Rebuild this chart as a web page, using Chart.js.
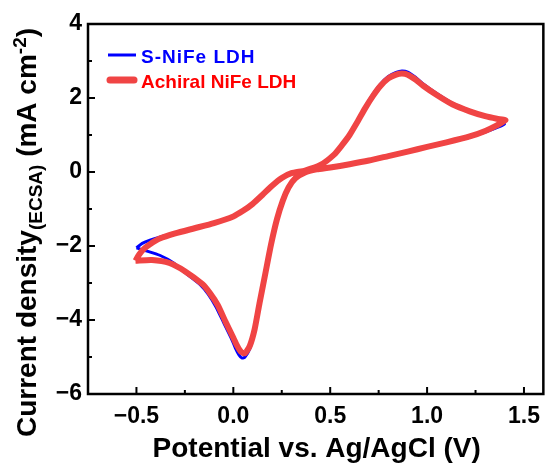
<!DOCTYPE html>
<html>
<head>
<meta charset="utf-8">
<script src="https://cdn.jsdelivr.net/npm/chart.js@4.4.0/dist/chart.umd.min.js"></script>
<style>
  html, body { margin: 0; padding: 0; background: #fff; }
</style>
</head>
<body>
<canvas id="cv" width="549" height="466"></canvas>
<script>
// S-NiFe LDH : potential (V) and current density (mA cm-2), one closed CV loop
const sNiFeV = [-0.50, -0.47, -0.43, -0.38, -0.30, -0.20, -0.10, 0.00, 0.05, 0.10, 0.15, 0.20, 0.25, 0.30, 0.37,
  0.45, 0.52, 0.56, 0.60, 0.64, 0.68, 0.72, 0.76, 0.80, 0.84, 0.87, 0.90, 0.94, 0.98, 1.05, 1.13, 1.22, 1.30, 1.36, 1.40,
  1.36, 1.30, 1.22, 1.10, 1.00, 0.90, 0.80, 0.70, 0.60, 0.50, 0.43, 0.37, 0.32, 0.285, 0.255, 0.225, 0.195, 0.165, 0.135,
  0.11, 0.085, 0.06, 0.045, 0.03, 0.01, -0.01, -0.05, -0.09, -0.13, -0.17, -0.25, -0.31, -0.38, -0.45, -0.50];
const sNiFeJ = [-2.05, -1.93, -1.84, -1.76, -1.66, -1.52, -1.38, -1.20, -1.05, -0.86, -0.62, -0.37, -0.16, -0.03, 0.04,
  0.19, 0.48, 0.73, 1.02, 1.38, 1.76, 2.10, 2.38, 2.58, 2.69, 2.73, 2.70, 2.56, 2.38, 2.12, 1.86, 1.66, 1.52, 1.42, 1.30,
  1.20, 1.08, 0.94, 0.79, 0.67, 0.55, 0.43, 0.31, 0.21, 0.12, 0.07, -0.01, -0.17, -0.42, -0.78, -1.28, -1.95, -2.75, -3.58,
  -4.28, -4.78, -5.00, -5.03, -4.95, -4.75, -4.50, -4.07, -3.64, -3.30, -3.05, -2.72, -2.45, -2.25, -2.13, -2.05];

// Achiral NiFe LDH
const achiralV = [-0.505, -0.485, -0.46, -0.43, -0.38, -0.30, -0.20, -0.10, 0.00, 0.05, 0.10, 0.15, 0.20, 0.25, 0.30, 0.37,
  0.45, 0.52, 0.56, 0.60, 0.64, 0.68, 0.72, 0.76, 0.80, 0.84, 0.87, 0.90, 0.94, 0.98, 1.05, 1.13, 1.22, 1.30, 1.36, 1.405,
  1.36, 1.30, 1.22, 1.10, 1.00, 0.90, 0.80, 0.70, 0.60, 0.50, 0.43, 0.37, 0.32, 0.285, 0.255, 0.225, 0.195, 0.165, 0.135,
  0.11, 0.085, 0.06, 0.04, 0.02, 0.00, -0.04, -0.08, -0.12, -0.16, -0.25, -0.33, -0.42, -0.505];
const achiralJ = [-2.40, -2.22, -2.07, -1.95, -1.80, -1.66, -1.52, -1.38, -1.20, -1.05, -0.86, -0.62, -0.37, -0.16, -0.03, 0.04,
  0.19, 0.47, 0.72, 1.00, 1.35, 1.72, 2.05, 2.33, 2.53, 2.63, 2.66, 2.63, 2.50, 2.33, 2.08, 1.83, 1.64, 1.51, 1.44, 1.40,
  1.26, 1.11, 0.96, 0.80, 0.68, 0.55, 0.43, 0.31, 0.21, 0.12, 0.07, -0.01, -0.17, -0.42, -0.78, -1.28, -1.95, -2.75, -3.55,
  -4.25, -4.70, -4.90, -4.86, -4.70, -4.48, -4.05, -3.60, -3.28, -3.03, -2.68, -2.46, -2.38, -2.40];

const xTicks = [-0.5, 0.0, 0.5, 1.0, 1.5];
const xTickLabels = ['\u22120.5', '0.0', '0.5', '1.0', '1.5'];
const xMinor = [-0.25, 0.25, 0.75, 1.25];
const yTicks = [4, 2, 0, -2, -4, -6];
const yTickLabels = ['4', '2', '0', '\u22122', '\u22124', '\u22126'];
const yMinor = [3, 1, -1, -3, -5];

const FONT = '"Liberation Sans", Arial, sans-serif';

function pts(xs, ys) {
  return xs.map((x, i) => ({ x: x, y: ys[i] }));
}

// box, inward ticks, axis titles and legend
const decor = {
  id: 'decor',
  afterDraw(chart) {
    const { ctx, chartArea: a, scales: { x, y } } = chart;
    ctx.save();
    ctx.strokeStyle = '#000';
    ctx.lineWidth = 2.5;
    ctx.strokeRect(a.left, a.top, a.right - a.left, a.bottom - a.top);

    ctx.lineWidth = 2;
    ctx.beginPath();
    xTicks.forEach(v => { const p = x.getPixelForValue(v); ctx.moveTo(p, a.bottom); ctx.lineTo(p, a.bottom - 7); });
    xMinor.forEach(v => { const p = x.getPixelForValue(v); ctx.moveTo(p, a.bottom); ctx.lineTo(p, a.bottom - 4); });
    yTicks.forEach(v => { const p = y.getPixelForValue(v); ctx.moveTo(a.left, p); ctx.lineTo(a.left + 7, p); });
    yMinor.forEach(v => { const p = y.getPixelForValue(v); ctx.moveTo(a.left, p); ctx.lineTo(a.left + 4, p); });
    ctx.stroke();

    // x title
    ctx.fillStyle = '#000';
    ctx.font = 'bold 28px ' + FONT;
    ctx.textAlign = 'center';
    ctx.textBaseline = 'alphabetic';
    ctx.fillText('Potential vs. Ag/AgCl (V)', (a.left + a.right) / 2 + 1, 457);

    // y title with subscript and superscript
    ctx.save();
    ctx.translate(36, 437);
    ctx.rotate(-Math.PI / 2);
    ctx.textAlign = 'left';
    const parts = [
      ['Current density', 28, 0],
      ['(ECSA)', 19, 6],
      [' (mA cm', 28, 0],
      ['-2', 19, -10],
      [')', 28, 0]
    ];
    let cx = 0;
    parts.forEach(([t, s, dy]) => {
      ctx.font = 'bold ' + s + 'px ' + FONT;
      ctx.fillText(t, cx, dy);
      cx += ctx.measureText(t).width;
    });
    ctx.restore();

    // legend
    const ds = chart.data.datasets;
    const rows = [[ds[0], 55, 63, 3, '1px'], [ds[1], 80, 88, 7, '0px']];
    rows.forEach(([d, ly, ty, w, sp]) => {
      ctx.strokeStyle = d.borderColor;
      ctx.lineWidth = w;
      ctx.lineCap = w > 4 ? 'round' : 'butt';
      ctx.beginPath();
      ctx.moveTo(w > 4 ? 110 : 108, ly);
      ctx.lineTo(w > 4 ? 134 : 136, ly);
      ctx.stroke();
      ctx.fillStyle = d.textColor;
      ctx.font = 'bold 19px ' + FONT;
      ctx.letterSpacing = sp;
      ctx.textAlign = 'left';
      ctx.fillText(d.label, 141, ty);
    });
    ctx.restore();
  }
};

const tickFont = { family: FONT, size: 23, weight: 'bold' };

new Chart(document.getElementById('cv'), {
  type: 'line',
  data: {
    datasets: [
      {
        label: 'S-NiFe LDH',
        data: pts(sNiFeV, sNiFeJ),
        borderColor: '#0000FF',
        textColor: '#0000FF',
        borderWidth: 3,
        pointRadius: 0,
        tension: 0.2,
        fill: false,
        order: 1
      },
      {
        label: 'Achiral NiFe LDH',
        data: pts(achiralV, achiralJ),
        borderColor: '#F04444',
        textColor: '#FF0000',
        borderWidth: 6,
        pointRadius: 0,
        tension: 0.2,
        fill: false,
        order: 0
      }
    ]
  },
  options: {
    responsive: false,
    animation: false,
    devicePixelRatio: 1,
    layout: { padding: { top: 24, right: 1, left: 0, bottom: 0 } },
    plugins: { legend: { display: false }, tooltip: { enabled: false } },
    scales: {
      x: {
        type: 'linear',
        min: -0.75,
        max: 1.6,
        grid: { display: false, drawTicks: false },
        border: { display: false },
        afterBuildTicks: s => { s.ticks = xTicks.map(v => ({ value: v })); },
        afterFit: s => { s.height = 72; },
        ticks: {
          font: tickFont, color: '#000', padding: 9, maxRotation: 0, autoSkip: false,
          callback: (v, i) => xTickLabels[i]
        }
      },
      y: {
        type: 'linear',
        min: -6,
        max: 4,
        grid: { display: false, drawTicks: false },
        border: { display: false },
        afterBuildTicks: s => { s.ticks = yTicks.map(v => ({ value: v })); },
        afterFit: s => { s.width = 88; },
        ticks: {
          font: tickFont, color: '#000', padding: 6, autoSkip: false,
          callback: (v, i) => yTickLabels[i]
        }
      }
    }
  },
  plugins: [decor]
});
</script>
</body>
</html>
